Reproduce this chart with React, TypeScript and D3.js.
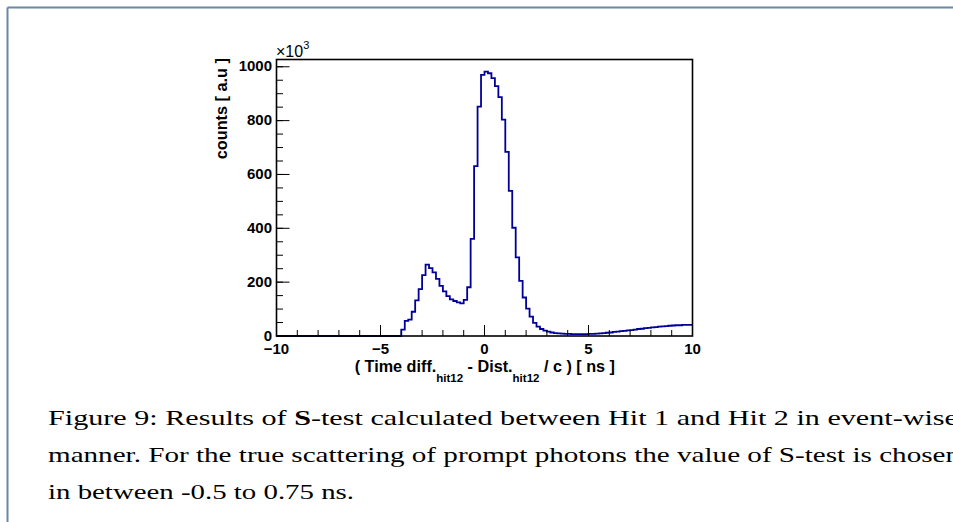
import React from "react";
import * as d3 from "d3";

const X_MIN = -10;
const X_MAX = 10;
const N_BINS = 120;
const Y_MAX = 1027;

// counts per bin (x10^3), bins of 1/6 ns from -10 to 10
const counts: number[] = [
  0, 0, 0, 0, 0, 0, 0, 0, 0, 0, 0, 0, 0, 0, 0, 0, 0, 0,
  0, 0, 0, 0, 0, 0, 0, 0, 0, 0, 0, 0, 0, 0, 0, 0, 0, 0,
  24, 56, 61, 90, 132, 174, 226, 265, 252, 236, 212, 186,
  166, 148, 136, 130, 125, 121, 134, 181, 361, 631, 852, 970,
  982, 976, 958, 928, 887, 804, 684, 539, 402, 292, 205, 143,
  102, 72, 49, 35, 26, 20, 16, 13, 11, 10, 9, 8,
  8, 7, 7, 7, 7, 7, 8, 8, 9, 10, 11, 12,
  13, 15, 16, 18, 19, 21, 22, 24, 26, 27, 29, 30,
  32, 33, 35, 36, 37, 38, 39, 40, 40, 41, 41, 41,
];

const xMajorTicks = [-10, -5, 0, 5, 10];
const xTickLabels = ["\u221210", "\u22125", "0", "5", "10"];
const xMinorTicks = d3.range(-10, 10.001, 1);
const yMajorTicks = [0, 200, 400, 600, 800, 1000];
const yTickLabels = ["0", "200", "400", "600", "800", "1000"];
const yMinorTicks = d3.range(0, 1001, 50);

const captionLines = [
  "manner. For the true scattering of prompt photons the value of S-test is chosen",
  "in between -0.5 to 0.75 ns.",
];

export default function App() {
  const W = 953;
  const H = 522;
  const left = 276.5;
  const right = 692.5;
  const top = 59.5;
  const bottom = 336;

  const x = d3.scaleLinear().domain([X_MIN, X_MAX]).range([left, right]);
  const y = d3.scaleLinear().domain([0, Y_MAX]).range([bottom, top]);
  const bw = (X_MAX - X_MIN) / N_BINS;

  const pts: [number, number][] = counts.map((c, i) => [X_MIN + i * bw, c]);
  pts.push([X_MAX, counts[counts.length - 1]]);
  const line = d3
    .line<[number, number]>()
    .x((d) => x(d[0]))
    .y((d) => y(d[1]))
    .curve(d3.curveStepAfter);

  const sans = "'Liberation Sans', Arial, Helvetica, sans-serif";
  const serif = "'Liberation Serif', 'Times New Roman', serif";

  return (
    <svg
      width={W}
      height={H}
      style={{ position: "absolute", left: 0, top: 0, background: "#fff" }}
    >
      <rect x={0} y={0} width={W} height={H} fill="#fff" />
      {/* page frame */}
      <line x1={7.5} y1={7.5} x2={W} y2={7.5} stroke="#6d87a3" strokeWidth={2} />
      <line x1={7.5} y1={7.5} x2={7.5} y2={H} stroke="#6d87a3" strokeWidth={2} />

      {/* histogram */}
      <path d={line(pts) || ""} fill="none" stroke="#000099" strokeWidth={1.8} />

      {/* frame */}
      <rect
        x={left}
        y={top}
        width={right - left}
        height={bottom - top}
        fill="none"
        stroke="#000"
        strokeWidth={1.6}
      />

      {/* y ticks */}
      {yMinorTicks.map((t) => (
        <line key={"ym" + t} x1={left} x2={left + 6.5} y1={y(t)} y2={y(t)} stroke="#000" strokeWidth={1} />
      ))}
      {yMajorTicks.map((t, i) => (
        <g key={"yM" + t}>
          <line x1={left} x2={left + 13} y1={y(t)} y2={y(t)} stroke="#000" strokeWidth={1} />
          <text
            x={272}
            y={y(t) - 0.8}
            dy="0.36em"
            textAnchor="end"
            fontFamily={sans}
            fontWeight="bold"
            fontSize={15}
          >
            {yTickLabels[i]}
          </text>
        </g>
      ))}

      {/* x ticks */}
      {xMinorTicks.map((t) => (
        <line key={"xm" + t} x1={x(t)} x2={x(t)} y1={bottom} y2={bottom - 6} stroke="#000" strokeWidth={1} />
      ))}
      {xMajorTicks.map((t, i) => (
        <g key={"xM" + t}>
          <line x1={x(t)} x2={x(t)} y1={bottom} y2={bottom - 11} stroke="#000" strokeWidth={1} />
          <text
            x={x(t)}
            y={353.5}
            textAnchor="middle"
            fontFamily={sans}
            fontWeight="bold"
            fontSize={15}
          >
            {xTickLabels[i]}
          </text>
        </g>
      ))}

      {/* x10^3 */}
      <text x={276} y={57} fontFamily={sans} fontSize={16}>
        {"\u00d710"}
        <tspan dy={-8} fontSize={11}>3</tspan>
      </text>

      {/* y title */}
      <text
        transform="translate(227,58) rotate(-90)"
        textAnchor="end"
        fontFamily={sans}
        fontWeight="bold"
        fontSize={16.3}
      >
        counts [ a.u ]
      </text>

      {/* x title */}
      <text x={615} y={371.5} textAnchor="end" fontFamily={sans} fontWeight="bold" fontSize={16.2}>
        {"( Time diff."}
        <tspan dy={10} fontSize={11.5}>hit12</tspan>
        <tspan dy={-10}>{" - Dist."}</tspan>
        <tspan dy={10} fontSize={11.5}>hit12</tspan>
        <tspan dy={-10}>{" / c ) [ ns ]"}</tspan>
      </text>

      {/* caption */}
      <text x={48} y={425} fontFamily={serif} fontSize={22} textLength={910} lengthAdjust="spacingAndGlyphs">
        {"Figure 9:  Results of "}
        <tspan fontWeight="bold">S</tspan>
        {"-test calculated between Hit 1 and Hit 2 in event-wise"}
      </text>
      <text x={48} y={462} fontFamily={serif} fontSize={22} textLength={912} lengthAdjust="spacingAndGlyphs">
        {captionLines[0]}
      </text>
      <text x={48} y={499} fontFamily={serif} fontSize={22} textLength={306} lengthAdjust="spacingAndGlyphs">
        {captionLines[1]}
      </text>
    </svg>
  );
}
